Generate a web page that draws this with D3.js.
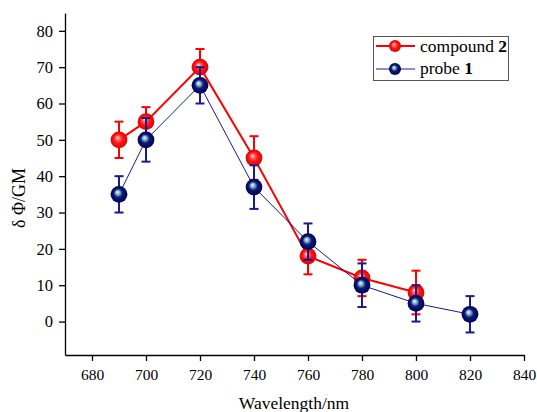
<!DOCTYPE html>
<html>
<head>
<meta charset="utf-8">
<script src="https://cdn.jsdelivr.net/npm/d3@7"></script>
<style>
  html, body { margin: 0; padding: 0; background: #fff; }
  svg { display: block; }
  svg text { font-family: "Liberation Serif", "Times New Roman", "DejaVu Serif", serif !important; fill: #000; }
</style>
</head>
<body>
<svg id="chart" width="537" height="412"></svg>
<script>
// Two-photon action cross-section vs excitation wavelength
const compoundX   = [690, 700, 720, 740, 760, 780, 800];
const compoundY   = [50, 55, 70, 45, 18, 12, 8];
const compoundErr = [5, 4, 5, 6, 5, 5, 6];

const probeX   = [690, 700, 720, 740, 760, 780, 800, 820];
const probeY   = [35, 50, 65, 37, 22, 10, 5, 2];
const probeErr = [5, 6, 5, 6, 5, 6, 5, 5];

const xTicks = [680, 700, 720, 740, 760, 780, 800, 820, 840];
const yTicks = [0, 10, 20, 30, 40, 50, 60, 70, 80];

const svg = d3.select("#chart");
const plotLeft = 65, plotRight = 524, plotTop = 13, plotBottom = 355;

const x = d3.scaleLinear().domain([670, 840]).range([plotLeft, plotRight]);
const y = d3.scaleLinear().domain([-9.2, 84.9]).range([plotBottom, plotTop]);

// sphere-like gradients for markers
const defs = svg.append("defs");
function sphere(id, stops) {
  const g = defs.append("radialGradient").attr("id", id)
    .attr("cx", "50%").attr("cy", "50%").attr("r", "50%")
    .attr("fx", "40%").attr("fy", "36%");
  stops.forEach(s => g.append("stop").attr("offset", s[0]).attr("stop-color", s[1]));
}
sphere("ballRed", [["0%", "#ffeaea"], ["20%", "#ff7a7a"], ["55%", "#ff1515"], ["100%", "#e00000"]]);
sphere("ballBlue", [["0%", "#eef8ff"], ["25%", "#86b0cc"], ["52%", "#0c1c72"], ["100%", "#000058"]]);

// axes
const xAxis = d3.axisBottom(x).tickValues(xTicks).tickSize(6).tickSizeOuter(0).tickPadding(8);
const yAxis = d3.axisLeft(y).tickValues(yTicks).tickSize(6).tickSizeOuter(0).tickPadding(6);

const gx = svg.append("g").attr("transform", `translate(0,${plotBottom})`).call(xAxis);
const gy = svg.append("g").attr("transform", `translate(${plotLeft},0)`).call(yAxis);
[gx, gy].forEach(g => {
  g.attr("font-family", null);
  g.select(".domain").attr("stroke", "#000").attr("stroke-width", 1.3);
  g.selectAll(".tick line").attr("stroke", "#000").attr("stroke-width", 1.3);
  g.selectAll(".tick text").attr("fill", "#000");
});
gx.selectAll(".tick text").attr("font-size", 15.5);
gy.selectAll(".tick text").attr("font-size", 16.5);

svg.append("text")
  .attr("transform", `translate(25,198) rotate(-90)`)
  .attr("text-anchor", "middle")
  .attr("font-size", 18)
  .text("δ  Φ/GM");

svg.append("text")
  .attr("x", 294).attr("y", 409)
  .attr("text-anchor", "middle")
  .attr("font-size", 17.5)
  .text("Wavelength/nm");

function drawSeries(xs, ys, errs, color, lineW, grad) {
  const pts = xs.map((d, i) => ({ x: d, y: ys[i], e: errs[i] }));
  const line = d3.line().x(d => x(d.x)).y(d => y(d.y));
  const g = svg.append("g");
  g.append("path").datum(pts).attr("d", line)
    .attr("fill", "none").attr("stroke", color).attr("stroke-width", lineW);
  const eb = g.selectAll(".eb").data(pts).enter().append("g");
  eb.append("line")
    .attr("x1", d => x(d.x)).attr("x2", d => x(d.x))
    .attr("y1", d => y(d.y - d.e)).attr("y2", d => y(d.y + d.e))
    .attr("stroke", color).attr("stroke-width", 2);
  [-1, 1].forEach(s => {
    eb.append("line")
      .attr("x1", d => x(d.x) - 4.5).attr("x2", d => x(d.x) + 4.5)
      .attr("y1", d => y(d.y + s * d.e)).attr("y2", d => y(d.y + s * d.e))
      .attr("stroke", color).attr("stroke-width", 2);
  });
  g.selectAll(".ball").data(pts).enter().append("circle")
    .attr("cx", d => x(d.x)).attr("cy", d => y(d.y)).attr("r", 8.4)
    .attr("fill", `url(#${grad})`);
}

drawSeries(compoundX, compoundY, compoundErr, "#ff0000", 2, "ballRed");
drawSeries(probeX, probeY, probeErr, "#1a1a90", 1, "ballBlue");

// legend
const lg = svg.append("g");
lg.append("rect").attr("x", 373.5).attr("y", 36.5).attr("width", 135).attr("height", 44)
  .attr("fill", "#fff").attr("stroke", "#555").attr("stroke-width", 1);
const legendItems = [
  { name: "compound ", num: "2", color: "#ff0000", w: 2, grad: "ballRed", yy: 46, ty: 52 },
  { name: "probe ", num: "1", color: "#1a1a90", w: 1, grad: "ballBlue", yy: 69, ty: 74 }
];
legendItems.forEach(it => {
  lg.append("line").attr("x1", 376).attr("x2", 415).attr("y1", it.yy).attr("y2", it.yy)
    .attr("stroke", it.color).attr("stroke-width", it.w);
  lg.append("circle").attr("cx", 395).attr("cy", it.yy).attr("r", 6)
    .attr("fill", `url(#${it.grad})`);
  const t = lg.append("text").attr("x", 420).attr("y", it.ty).attr("font-size", 17.5);
  t.append("tspan").text(it.name);
  t.append("tspan").attr("font-weight", "bold").text(it.num);
});
</script>
</body>
</html>
